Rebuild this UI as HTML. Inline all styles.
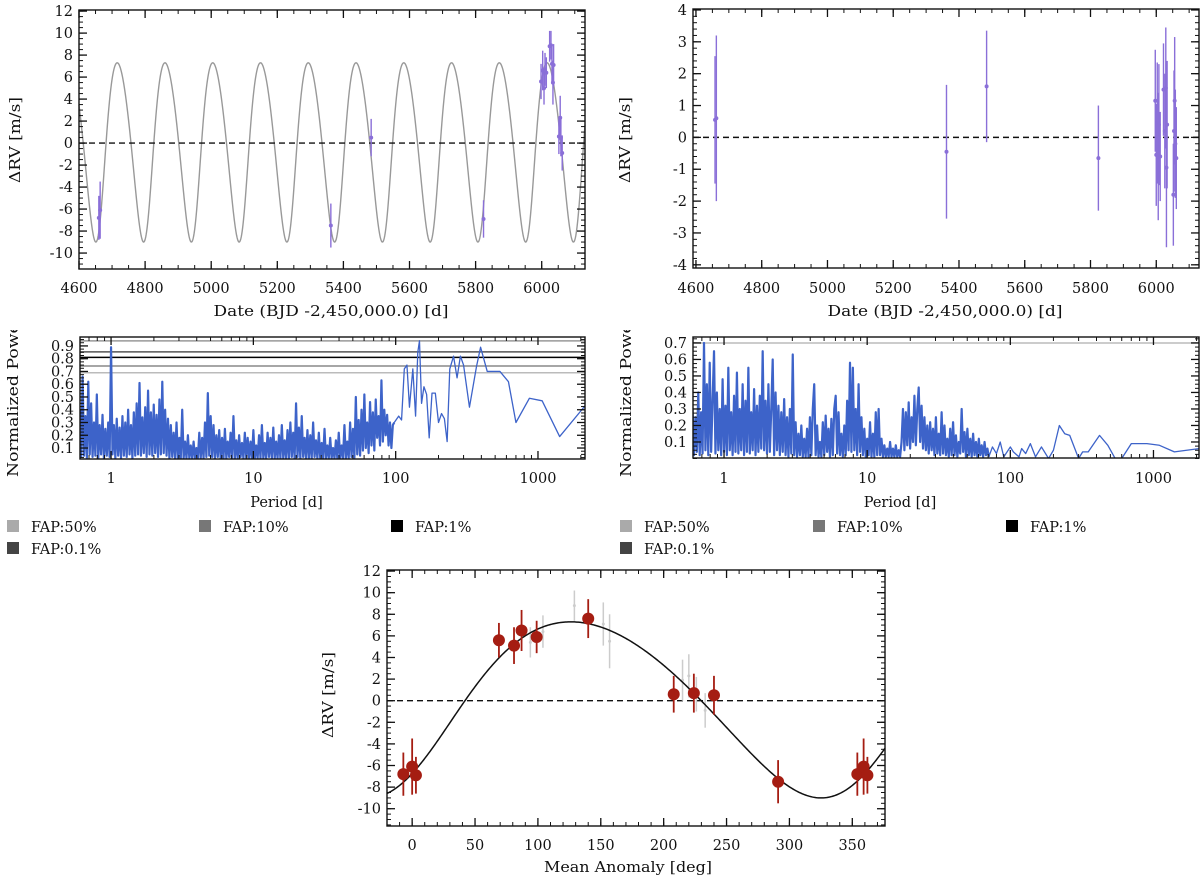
<!DOCTYPE html>
<html><head><meta charset="utf-8"><title>RV fit</title>
<style>
html,body{margin:0;padding:0;background:#fff;}
svg{display:block;}
text{font-family:"DejaVu Serif","Liberation Serif",serif;font-size:14.5px;fill:#111;}
</style></head>
<body>
<svg id="fig" xmlns="http://www.w3.org/2000/svg" width="1200" height="880" viewBox="0 0 1200 880">
<defs><clipPath id="pgclip"><rect x="0" y="330" width="1200" height="200"/></clipPath></defs>
</svg>
<script>
// ---------- data ----------
const rvTimes = [4660,4664,5362,5484,5824,5998,6003,6007,6010,6014,6024,6028,6031,6034,6036,6052,6056,6058,6062];
const rvValues = [-6.8,-6.1,-7.5,0.5,-6.9,5.6,6.6,5.0,6.7,6.4,8.8,8.9,7.2,5.5,7.1,0.6,2.3,0.5,-0.9];
const rvErrors = [2.0,2.6,2.0,1.7,1.7,1.6,1.8,1.5,1.5,1.4,1.4,1.3,1.8,2.0,1.9,1.6,2.0,1.7,1.6];

const resTimes = [4658,4662,5362,5484,5824,5997,6000,6003,6006,6008,6012,6022,6026,6029,6031,6033,6052,6054,6056,6058,6061];
const resValues = [0.55,0.6,-0.45,1.6,-0.65,1.15,-0.55,0.45,-0.6,0.4,-0.6,1.5,0.2,1.55,-0.95,0.4,-1.8,0.2,1.15,-0.2,-0.65];
const resErrors = [2.0,2.6,2.1,1.75,1.65,1.6,1.6,1.9,2.0,1.9,1.4,1.45,1.8,1.9,2.5,2.0,1.6,1.9,2.0,1.7,1.6];

const binPhase = [-7,0,3,69,81,87,99,140,208,224,240,291,354,359,362];
const binValues = [-6.8,-6.1,-6.9,5.6,5.1,6.5,5.9,7.6,0.6,0.7,0.5,-7.5,-6.8,-6.1,-6.9];
const binErrors = [2.0,2.6,1.7,1.6,1.7,1.9,1.5,1.8,1.7,1.8,1.8,2.0,2.0,2.6,1.7];

const rawPhase = [94,104,129,152,157,215,220,226,233];
const rawValues = [5.4,6.4,8.8,7.1,5.5,1.9,2.3,0.6,-0.9];
const rawErrors = [1.4,1.5,1.4,2.0,2.5,1.9,2.0,1.6,1.6];

// Keplerian model parameters
const modelK = 8.15, modelEcc = 0.12, modelNu0 = 136.3, modelOffset = -0.85, modelPeriod = 144.5, modelT0 = 4665;

// periodogram (left): dense part sampled on log-period grid, sparse part as pairs
const pgGridStartLog = -0.22, pgGridStep = 0.01;
const pgLeftDense = [
0.40,0.03,0.66,0.04,0.35,0.02,0.62,0.05,0.45,0.03,
0.30,0.04,0.52,0.02,0.28,0.05,0.36,0.02,0.25,0.04,
0.30,0.03,0.89,0.05,0.28,0.02,0.33,0.04,0.26,0.02,
0.35,0.04,0.30,0.03,0.40,0.05,0.28,0.02,0.38,0.04,
0.45,0.05,0.61,0.04,0.34,0.06,0.42,0.03,0.55,0.05,
0.38,0.04,0.44,0.06,0.36,0.03,0.48,0.05,0.62,0.06,
0.40,0.04,0.33,0.02,0.28,0.03,0.22,0.02,0.30,0.02,
0.18,0.02,0.40,0.02,0.15,0.02,0.20,0.02,0.12,0.02,
0.15,0.02,0.10,0.02,0.22,0.02,0.18,0.02,0.30,0.03,
0.53,0.04,0.35,0.03,0.28,0.02,0.20,0.03,0.24,0.02,
0.18,0.02,0.25,0.02,0.15,0.03,0.22,0.02,0.35,0.02,
0.16,0.02,0.20,0.03,0.14,0.02,0.22,0.02,0.18,0.02,
0.15,0.02,0.24,0.02,0.12,0.02,0.20,0.02,0.28,0.02,
0.14,0.02,0.22,0.03,0.18,0.02,0.26,0.02,0.15,0.02,
0.20,0.02,0.28,0.02,0.16,0.02,0.24,0.02,0.30,0.03,
0.22,0.02,0.45,0.03,0.26,0.02,0.35,0.03,0.18,0.02,
0.24,0.02,0.20,0.02,0.30,0.03,0.16,0.02,0.22,0.02,
0.14,0.02,0.25,0.02,0.12,0.02,0.18,0.02,0.10,0.02,
0.16,0.02,0.22,0.02,0.12,0.02,0.28,0.02,0.15,0.02,
0.30,0.03,0.25,0.02,0.50,0.05,0.32,0.04,0.40,0.08,
0.52,0.10,0.30,0.06,0.46,0.12,0.38,0.08,0.48,0.18,
0.35,0.12,0.63,0.15,0.40,0.20,0.36,0.12,0.30,0.10,0.28,0.30];
const pgLeftSparsePeriods = [105,110,115,120,125,132,138,143,147,152,158,165,172,180,190,200,210,220,230,240,255,270,285,300,330,370,395,440,540,620,700,870,1070,1420,2140];
const pgLeftSparsePower = [0.35,0.32,0.72,0.75,0.42,0.72,0.35,0.85,0.94,0.45,0.58,0.52,0.18,0.53,0.53,0.30,0.37,0.33,0.15,0.72,0.82,0.65,0.82,0.75,0.42,0.74,0.89,0.70,0.70,0.62,0.30,0.49,0.47,0.19,0.43];
const fapLeftLevels = [0.69,0.743,0.81,0.853,0.94];

const pgRightDense = [
0.30,0.02,0.25,0.04,0.40,0.02,0.28,0.03,0.70,0.05,
0.45,0.02,0.58,0.04,0.35,0.65,0.03,0.40,0.05,0.30,
0.02,0.48,0.04,0.32,0.02,0.55,0.05,0.28,0.02,0.38,
0.04,0.52,0.03,0.30,0.05,0.45,0.02,0.35,0.04,0.55,
0.03,0.28,0.05,0.42,0.02,0.32,0.04,0.38,0.06,0.65,
0.05,0.35,0.03,0.45,0.04,0.30,0.60,0.02,0.40,0.05,
0.32,0.02,0.28,0.04,0.36,0.02,0.25,0.01,0.30,0.03,
0.63,0.02,0.22,0.01,0.15,0.02,0.20,0.01,0.12,0.01,
0.18,0.01,0.25,0.02,0.30,0.45,0.02,0.20,0.01,0.10,
0.01,0.22,0.02,0.26,0.04,0.18,0.01,0.24,0.02,0.30,
0.38,0.03,0.28,0.02,0.15,0.01,0.20,0.02,0.35,0.05,
0.58,0.04,0.55,0.05,0.30,0.02,0.45,0.04,0.25,0.02,
0.18,0.01,0.12,0.02,0.22,0.01,0.15,0.01,0.28,0.02,
0.30,0.02,0.12,0.01,0.08,0.01,0.06,0.01,0.10,0.01,
0.06,0.01,0.08,0.01,0.05,0.01,0.10,0.30,0.05,0.28,
0.08,0.34,0.06,0.25,0.10,0.38,0.08,0.30,0.43,0.10,
0.32,0.06,0.25,0.05,0.20,0.03,0.22,0.05,0.18,0.02,
0.25,0.03,0.15,0.02,0.28,0.03,0.20,0.02,0.12,0.01,
0.18,0.02,0.22,0.02,0.14,0.01,0.10,0.03,0.30,0.04,
0.16,0.01,0.18,0.02,0.12,0.01,0.15,0.02,0.10,0.01,
0.12,0.02,0.08,0.01,0.10,0.02,0.06,0.01];
const pgRightSparsePeriods = [75,80,85,90,100,105,115,120,128,138,150,165,185,200,220,240,260,300,320,350,420,480,540,600,700,900,1100,1400,2080];
const pgRightSparsePower = [0.07,0.03,0.10,0.01,0.07,0.04,0.01,0.06,0.03,0.09,0.01,0.07,0.00,0.05,0.20,0.15,0.14,0.00,0.04,0.04,0.14,0.08,0.00,0.00,0.09,0.09,0.08,0.04,0.06];
const fapRightLevels = [0.70];

const legendLabels = ['FAP:50%','FAP:10%','FAP:1%','FAP:0.1%'];
const legendColors = ['#aaaaaa','#777777','#000000','#444444'];

const rvTicksLeft = [-10,-8,-6,-4,-2,0,2,4,6,8,10,12];
const rvTicksRight = [-4,-3,-2,-1,0,1,2,3,4];
const dateTicks = [4600,4800,5000,5200,5400,5600,5800,6000];
const pgPowerTicksLeft = [0.1,0.2,0.3,0.4,0.5,0.6,0.7,0.8,0.9];
const pgPowerTicksRight = [0.1,0.2,0.3,0.4,0.5,0.6,0.7];
const periodTicks = [1,10,100,1000];
const phaseTicks = [0,50,100,150,200,250,300,350];

// ---------- helpers ----------
const NS = 'http://www.w3.org/2000/svg';
const svg = document.getElementById('fig');
function mk(tag, attrs, parent){
  const e = document.createElementNS(NS, tag);
  for (const k in attrs) e.setAttribute(k, attrs[k]);
  (parent || svg).appendChild(e);
  return e;
}
function linScale(d0,d1,r0,r1){ return v => r0 + (v-d0)/(d1-d0)*(r1-r0); }
function logScale(d0,d1,r0,r1){ const a=Math.log10(d0), b=Math.log10(d1); return v => r0 + (Math.log10(v)-a)/(b-a)*(r1-r0); }

function keplerRV(M){
  const m = M*Math.PI/180;
  let E = m;
  for (let i=0;i<20;i++) E = E - (E - modelEcc*Math.sin(E) - m)/(1 - modelEcc*Math.cos(E));
  const nu = 2*Math.atan2(Math.sqrt(1+modelEcc)*Math.sin(E/2), Math.sqrt(1-modelEcc)*Math.cos(E/2));
  return modelOffset + modelK*Math.cos(nu - modelNu0*Math.PI/180);
}

function panel(name){
  const g = mk('g', {});
  
  
  return g;
}
function frame(g, b){
  const r = mk('rect', {x:b.x0, y:b.y0, width:b.x1-b.x0, height:b.y1-b.y0, fill:'none', stroke:'#111', 'stroke-width':1.4}, g);
  
  
}
function xTicks(g, b, sx, majors, minors, labels, baseline){
  const tg = mk('g', {}, g);
  
  
  minors.forEach(v => { const x = sx(v); if (x < b.x0-0.5 || x > b.x1+0.5) return;
    mk('line', {x1:x, x2:x, y1:b.y1, y2:b.y1-4, stroke:'#111', 'stroke-width':1}, tg);
    mk('line', {x1:x, x2:x, y1:b.y0, y2:b.y0+4, stroke:'#111', 'stroke-width':1}, tg); });
  majors.forEach((v,i) => { const x = sx(v);
    mk('line', {x1:x, x2:x, y1:b.y1, y2:b.y1-8, stroke:'#111', 'stroke-width':1.3}, tg);
    mk('line', {x1:x, x2:x, y1:b.y0, y2:b.y0+8, stroke:'#111', 'stroke-width':1.3}, tg);
    const t = mk('text', {x:x, y:baseline, 'text-anchor':'middle'}, tg);
    t.textContent = labels[i];
    
    
  });
}
function yTicks(g, b, sy, majors, minors, labels){
  const tg = mk('g', {}, g);
  
  
  minors.forEach(v => { const y = sy(v); if (y < b.y0-0.5 || y > b.y1+0.5) return;
    mk('line', {x1:b.x0, x2:b.x0+4, y1:y, y2:y, stroke:'#111', 'stroke-width':1}, tg);
    mk('line', {x1:b.x1, x2:b.x1-4, y1:y, y2:y, stroke:'#111', 'stroke-width':1}, tg); });
  majors.forEach((v,i) => { const y = sy(v);
    mk('line', {x1:b.x0, x2:b.x0+8, y1:y, y2:y, stroke:'#111', 'stroke-width':1.3}, tg);
    mk('line', {x1:b.x1, x2:b.x1-8, y1:y, y2:y, stroke:'#111', 'stroke-width':1.3}, tg);
    const t = mk('text', {x:b.x0-6, y:y+5, 'text-anchor':'end'}, tg);
    t.textContent = labels[i];
    
    
  });
}
function range(a,b,s){ const r=[]; for (let v=a; v<=b+1e-9; v+=s) r.push(+v.toFixed(4)); return r; }
function title(g, txt, x, y, name, rot, len){
  const t = mk('text', {x:x, y:y, 'text-anchor':'middle'}, g);
  if (rot) t.setAttribute('transform', 'rotate(-90 '+x+' '+y+')');
  if (len) { t.setAttribute('textLength', len); t.setAttribute('lengthAdjust','spacingAndGlyphs'); }
  t.textContent = txt;
  
  
  return t;
}
function errPoint(g, x, y, yLo, yHi, color, w, r, name){
  const pg = mk('g', {}, g);
  
  
  mk('line', {x1:x, x2:x, y1:yLo, y2:yHi, stroke:color, 'stroke-width':w}, pg);
  mk('circle', {cx:x, cy:y, r:r, fill:color}, pg);
}
function dashedZero(g, b, y){
  const l = mk('line', {x1:b.x0, x2:b.x1, y1:y, y2:y, stroke:'#111', 'stroke-width':1.4, 'stroke-dasharray':'6,4'}, g);
  
  
}
function logMinors(lo, hi){ const r=[]; for (let d=-1; d<=3; d++) for (let k=2;k<=9;k++){ const v=k*Math.pow(10,d); if (v>=lo && v<=hi) r.push(v);} return r; }

// ---------- top-left: RV vs time ----------
(function(){
  const b = {x0:79, x1:585, y0:10, y1:269};
  const g = panel('rv-time-panel');
  const sx = linScale(4600, 6131, b.x0, b.x1);
  const sy = linScale(-11.45, 12.1, b.y1, b.y0);
  let d = '';
  for (let t=4600; t<=6131; t+=1){
    const M = 360*(t-modelT0)/modelPeriod;
    d += (d?'L':'M') + sx(t).toFixed(2) + ',' + sy(keplerRV(M)).toFixed(2);
  }
  const p = mk('path', {d:d, fill:'none', stroke:'#999', 'stroke-width':1.4}, g);
  
  
  dashedZero(g, b, sy(0));
  rvTimes.forEach((t,i) => errPoint(g, sx(t), sy(rvValues[i]), sy(rvValues[i]-rvErrors[i]), sy(rvValues[i]+rvErrors[i]), '#8a6fd8', 1.4, 2, 'rv-point'));
  frame(g, b);
  xTicks(g, b, sx, dateTicks, range(4600, 6100, 50), dateTicks.map(String), 293);
  yTicks(g, b, sy, rvTicksLeft, range(-11, 12, 0.5), rvTicksLeft.map(String));
  title(g, 'Date (BJD -2,450,000.0) [d]', 331, 316, 'x-axis-title', false, 235);
  title(g, 'ΔRV [m/s]', 20, 140, 'y-axis-title', true, 86);
})();

// ---------- top-right: residuals ----------
(function(){
  const b = {x0:693, x1:1199, y0:9, y1:268};
  const g = panel('residuals-panel');
  const sx = linScale(4591, 6130, b.x0, b.x1);
  const sy = linScale(-4.1, 4.03, b.y1, b.y0);
  dashedZero(g, b, sy(0));
  resTimes.forEach((t,i) => errPoint(g, sx(t), sy(resValues[i]), sy(resValues[i]-resErrors[i]), sy(resValues[i]+resErrors[i]), '#8a6fd8', 1.4, 2, 'residual-point'));
  frame(g, b);
  xTicks(g, b, sx, dateTicks, range(4600, 6100, 50), dateTicks.map(String), 293);
  yTicks(g, b, sy, rvTicksRight, range(-4, 4, 0.2), rvTicksRight.map(String));
  title(g, 'Date (BJD -2,450,000.0) [d]', 945, 316, 'x-axis-title', false, 235);
  title(g, 'ΔRV [m/s]', 630, 140, 'y-axis-title', true, 86);
})();

// ---------- periodograms ----------
function periodogram(name, b, pLo, pHi, yLo, yHi, dense, spP, spV, faps, fapColors, pTicks, ylabX){
  const g = panel(name);
  const sx = logScale(pLo, pHi, b.x0, b.x1);
  const sy = linScale(yLo, yHi, b.y1, b.y0);
  const cg = mk('clipPath', {id: name+'-clip'});
  mk('rect', {x:b.x0, y:b.y0, width:b.x1-b.x0, height:b.y1-b.y0}, cg);
  const inner = mk('g', {'clip-path':'url(#'+name+'-clip)'}, g);
  faps.forEach((v,i) => {
    const l = mk('line', {x1:b.x0, x2:b.x1, y1:sy(v), y2:sy(v), stroke:fapColors[i], 'stroke-width':1.5}, inner);
    
    
  });
  let d = '';
  dense.forEach((v,i) => { const P = Math.pow(10, pgGridStartLog + pgGridStep*i);
    d += (d?'L':'M') + sx(P).toFixed(2) + ',' + sy(v).toFixed(2); });
  let d2 = 'M' + sx(Math.pow(10, pgGridStartLog + pgGridStep*(dense.length-1))).toFixed(2) + ',' + sy(dense[dense.length-1]).toFixed(2);
  spP.forEach((P,i) => { d2 += 'L' + sx(P).toFixed(2) + ',' + sy(spV[i]).toFixed(2); });
  const p = mk('path', {d:d, fill:'none', stroke:'#3d63c9', 'stroke-width':2.2, 'stroke-linejoin':'round'}, inner);
  
  
  const p2 = mk('path', {d:d2, fill:'none', stroke:'#3d63c9', 'stroke-width':1.3, 'stroke-linejoin':'round'}, inner);
  
  
  frame(g, b);
  xTicks(g, b, sx, periodTicks, logMinors(pLo, pHi), periodTicks.map(String), 483);
  yTicks(g, b, sy, pTicks, range(0, 1, 0.025), pTicks.map(v=>v.toFixed(1)));
  title(g, 'Period [d]', (b.x0+b.x1)/2 - 46, 507, 'x-axis-title');
  const cgl = mk('g', {'clip-path':'url(#pgclip)'}, g);
  const yl = mk('text', {x:ylabX, y:477, 'text-anchor':'start', transform:'rotate(-90 '+ylabX+' 477)', textLength:162, lengthAdjust:'spacingAndGlyphs'}, cgl);
  yl.textContent = 'Normalized Power';
  
  
}
periodogram('periodogram-left', {x0:80, x1:585, y0:337, y1:459}, 0.605, 2140, 0.014, 0.97, pgLeftDense, pgLeftSparsePeriods, pgLeftSparsePower, fapLeftLevels, ['#bbbbbb','#888888','#000000','#555555','#999999'], pgPowerTicksLeft, 18);
periodogram('periodogram-right', {x0:693, x1:1199, y0:337, y1:458}, 0.607, 2080, 0.003, 0.736, pgRightDense, pgRightSparsePeriods, pgRightSparsePower, fapRightLevels, ['#bbbbbb'], pgPowerTicksRight, 631);

// ---------- legends ----------
function legend(name, xs){
  const g = mk('g', {});
  
  
  legendLabels.forEach((lab,i) => {
    const x = i < 3 ? xs[i] : xs[0];
    const y = i < 3 ? 520 : 542;
    const eg = mk('g', {}, g);
    
    
    mk('rect', {x:x, y:y, width:12, height:12, fill:legendColors[i]}, eg);
    const t = mk('text', {x:x+24, y:y+12}, eg);
    t.textContent = lab;
  });
}
legend('legend-left', [7, 199, 391]);
legend('legend-right', [620, 813, 1006]);

// ---------- bottom: phase-folded ----------
(function(){
  const b = {x0:387, x1:885, y0:570, y1:826};
  const g = panel('phase-folded-panel');
  const sx = linScale(-20, 376, b.x0, b.x1);
  const sy = linScale(-11.6, 12.1, b.y1, b.y0);
  dashedZero(g, b, sy(0));
  rawPhase.forEach((ph,i) => errPoint(g, sx(ph), sy(rawValues[i]), sy(rawValues[i]-rawErrors[i]), sy(rawValues[i]+rawErrors[i]), '#cccccc', 1.5, 1.5, 'raw-point'));
  let d = '';
  for (let M=-20; M<=376; M+=1) d += (d?'L':'M') + sx(M).toFixed(2) + ',' + sy(keplerRV(M)).toFixed(2);
  const p = mk('path', {d:d, fill:'none', stroke:'#111', 'stroke-width':1.5}, g);
  
  
  binPhase.forEach((ph,i) => errPoint(g, sx(ph), sy(binValues[i]), sy(binValues[i]-binErrors[i]), sy(binValues[i]+binErrors[i]), '#a51d12', 1.8, 6, 'binned-point'));
  frame(g, b);
  xTicks(g, b, sx, phaseTicks, range(-20, 370, 10), phaseTicks.map(String), 850);
  yTicks(g, b, sy, rvTicksLeft, range(-11.5, 12, 0.5), rvTicksLeft.map(String));
  title(g, 'Mean Anomaly [deg]', 628, 872, 'x-axis-title', false, 168);
  title(g, 'ΔRV [m/s]', 333, 695, 'y-axis-title', true, 86);
})();
</script>
</body></html>
